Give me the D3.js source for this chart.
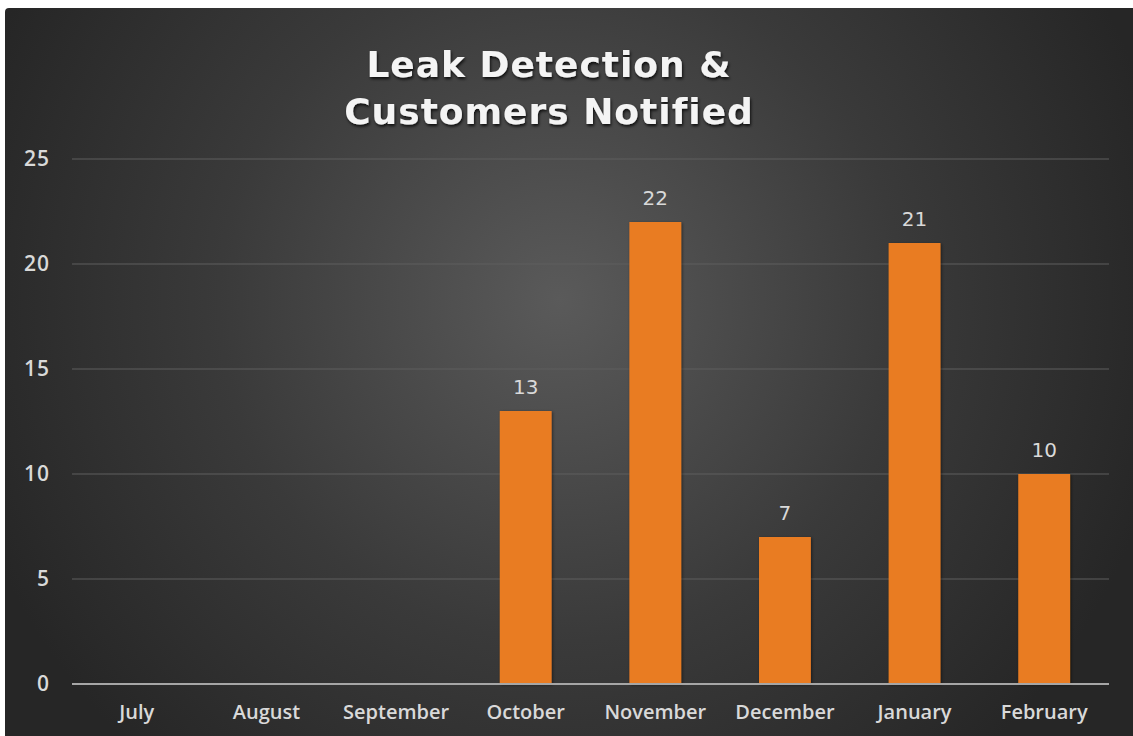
<!DOCTYPE html>
<html>
<head>
<meta charset="utf-8">
<script src="https://cdn.jsdelivr.net/npm/d3@7"></script>
<style>
  body { margin: 0; background: #fff; }
</style>
</head>
<body>
<div id="chart"></div>
<script>
var months = ["July", "August", "September", "October", "November", "December", "January", "February"];
var leaks = [null, null, null, 13, 22, 7, 21, 10];
var yTicks = [0, 5, 10, 15, 20, 25];

var W = 1133, H = 736;
var margin = {top: 159, right: 24, bottom: 52, left: 72};
var width = 1109 - margin.left,
    height = 684 - margin.top;

var svg = d3.select("#chart").append("svg")
  .attr("width", W)
  .attr("height", H);

var defs = svg.append("defs");
var grad = defs.append("radialGradient")
  .attr("id", "bg")
  .attr("gradientUnits", "userSpaceOnUse")
  .attr("cx", 560).attr("cy", 300).attr("r", 620);
grad.append("stop").attr("offset", "0%").attr("stop-color", "#5a5a5a");
grad.append("stop").attr("offset", "55%").attr("stop-color", "#3a3a3a");
grad.append("stop").attr("offset", "100%").attr("stop-color", "#262626");

var shadow = defs.append("filter").attr("id", "tshadow")
  .attr("x", "-10%").attr("y", "-10%").attr("width", "120%").attr("height", "140%");
shadow.append("feDropShadow")
  .attr("dx", 1).attr("dy", 2).attr("stdDeviation", 1.5)
  .attr("flood-color", "#000").attr("flood-opacity", 0.8);

var barShadow = defs.append("filter").attr("id", "bshadow")
  .attr("x", "-20%").attr("y", "-10%").attr("width", "140%").attr("height", "120%");
barShadow.append("feDropShadow")
  .attr("dx", 1).attr("dy", 1).attr("stdDeviation", 1.5)
  .attr("flood-color", "#000").attr("flood-opacity", 0.5);

// background panel runs off the right and bottom edges
svg.append("rect")
  .attr("x", 5).attr("y", 8)
  .attr("width", W + 20).attr("height", H + 20)
  .attr("rx", 4)
  .attr("fill", "url(#bg)");

// title
var title = svg.append("text")
  .attr("text-anchor", "middle")
  .attr("font-family", "'DejaVu Sans', Verdana, sans-serif")
  .attr("font-weight", "bold")
  .attr("font-size", 36)
  .attr("letter-spacing", 1)
  .attr("fill", "#f4f4f4")
  .attr("filter", "url(#tshadow)");
title.append("tspan").attr("x", 549).attr("y", 77).text("Leak Detection &");
title.append("tspan").attr("x", 549).attr("y", 124).text("Customers Notified");

var g = svg.append("g")
  .attr("transform", "translate(" + margin.left + "," + margin.top + ")");

var x = d3.scaleBand()
  .domain(months)
  .range([0, width])
  .paddingInner(0.6)
  .paddingOuter(0.3);

var y = d3.scaleLinear()
  .domain([0, 25])
  .range([height, 0]);

// gridlines
g.selectAll(".grid")
  .data(yTicks.filter(function(d){ return d > 0; }))
  .enter().append("line")
  .attr("x1", 0).attr("x2", width)
  .attr("y1", function(d){ return y(d); })
  .attr("y2", function(d){ return y(d); })
  .attr("stroke", "#5e5e5e")
  .attr("stroke-width", 1.2);

// y axis labels
var yAxis = d3.axisLeft(y).tickValues(yTicks).tickSize(0).tickPadding(22);
var yg = g.append("g").call(yAxis);
yg.select(".domain").remove();
yg.selectAll("text")
  .attr("font-family", "'Open Sans', 'Liberation Sans', sans-serif")
  .attr("font-weight", 600)
  .attr("font-size", 21)
  .attr("letter-spacing", 1)
  .attr("fill", "#d9d9d9");

// bars
var data = months.map(function(m, i){ return {month: m, value: leaks[i]}; })
  .filter(function(d){ return d.value != null; });

g.selectAll(".bar")
  .data(data)
  .enter().append("rect")
  .attr("x", function(d){ return x(d.month); })
  .attr("y", function(d){ return y(d.value); })
  .attr("width", x.bandwidth())
  .attr("height", function(d){ return height - y(d.value); })
  .attr("fill", "#e97c23")
  .attr("filter", "url(#bshadow)");

// labels
g.selectAll(".lbl")
  .data(data)
  .enter().append("text")
  .attr("x", function(d){ return x(d.month) + x.bandwidth() / 2; })
  .attr("y", function(d){ return y(d.value) - 17; })
  .attr("text-anchor", "middle")
  .attr("font-family", "'DejaVu Sans', sans-serif")
  .attr("font-size", 20)
  .attr("fill", "#d9d9d9")
  .text(function(d){ return d.value; });

// x axis
var xAxis = d3.axisBottom(x).tickSize(0).tickPadding(21);
var xg = g.append("g")
  .attr("transform", "translate(0," + height + ")")
  .call(xAxis);
xg.select(".domain").remove();
xg.selectAll("text")
  .attr("font-family", "'Open Sans', 'Liberation Sans', sans-serif")
  .attr("font-weight", 600)
  .attr("font-size", 20)
  .attr("fill", "#d9d9d9");

g.append("line")
  .attr("x1", 0).attr("x2", width)
  .attr("y1", height).attr("y2", height)
  .attr("stroke", "#a6a6a6")
  .attr("stroke-width", 2);
</script>
</body>
</html>
